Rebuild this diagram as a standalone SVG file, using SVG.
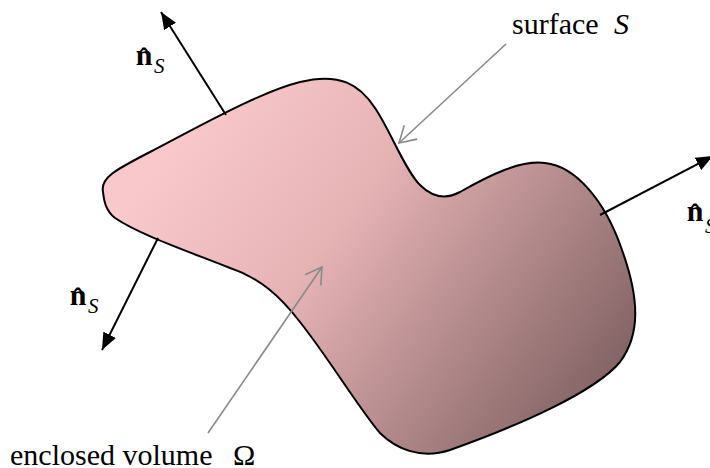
<svg xmlns="http://www.w3.org/2000/svg" width="710" height="468" viewBox="0 0 710 468">
  <style>
    .normal { stroke: #000; stroke-width: 2; fill: none; }
    .pointer { stroke: #8a8a8a; stroke-width: 1.6; fill: none; }
    .nb { font-family: "Liberation Serif", "Times New Roman", serif; font-weight: bold; font-size: 30px; fill: #000; }
    .hat { font-family: "Liberation Serif", "Times New Roman", serif; font-weight: bold; font-size: 28px; fill: #000; }
    .sub { font-family: "Liberation Serif", "Times New Roman", serif; font-style: italic; font-size: 21px; fill: #000; }
    .lbl { font-family: "Liberation Serif", "Times New Roman", serif; font-size: 30px; fill: #000; }
    .lbli { font-family: "Liberation Serif", "Times New Roman", serif; font-style: italic; font-size: 30px; fill: #000; }
  </style>
  <defs>
    <linearGradient id="fillGrad" gradientUnits="userSpaceOnUse" x1="190" y1="120" x2="610" y2="430">
      <stop offset="0" stop-color="#F8C8CB"/>
      <stop offset="0.35" stop-color="#E6B3B5"/>
      <stop offset="1" stop-color="#7A5C5D"/>
    </linearGradient>
    <marker id="solidHead" markerUnits="userSpaceOnUse" markerWidth="18" markerHeight="14" refX="17" refY="7" orient="auto">
      <path d="M0,0 L17,7 L0,14 Z" fill="#000"/>
    </marker>
    <marker id="openHead" markerUnits="userSpaceOnUse" markerWidth="20" markerHeight="22" refX="17" refY="11" orient="auto">
      <path d="M1,1.5 L17,11 L1,20.5" fill="none" stroke="#8a8a8a" stroke-width="1.6"/>
    </marker>
  </defs>

  <g id="surface">
    <path d="M103,192 C100,178 115,170 150,152 C200,126 260,92 300,82 C340,72 360,85 375,108 C390,130 405,170 420,185 C432,197 445,200 460,192 C490,175 520,160 545,163 C575,166 605,200 622,250 C640,300 640,335 620,362 C595,392 520,425 450,450 C420,460 395,448 380,433 C360,410 330,360 300,322 C280,296 260,278 230,268 C190,252 140,235 115,218 C105,210 104,200 103,192 Z" fill="url(#fillGrad)" stroke="#000" stroke-width="2"/>
  </g>

  <g id="connectors">
    <line class="normal" x1="226" y1="115" x2="161" y2="12" marker-end="url(#solidHead)"/>
    <line class="normal" x1="600" y1="215" x2="713" y2="156" marker-end="url(#solidHead)"/>
    <line class="normal" x1="158" y1="238" x2="102" y2="350" marker-end="url(#solidHead)"/>
    <line class="pointer" x1="506" y1="44" x2="399" y2="143" marker-end="url(#openHead)"/>
    <line class="pointer" x1="208" y1="433" x2="322" y2="267" marker-end="url(#openHead)"/>
  </g>

  <g id="label-normal-top">
    <text class="hat" x="144" y="67" text-anchor="middle">ˆ</text>
    <text class="nb" x="144" y="65" text-anchor="middle">n</text>
    <text class="sub" x="154" y="73">S</text>
  </g>
  <g id="label-normal-bottom">
    <text class="hat" x="78" y="307" text-anchor="middle">ˆ</text>
    <text class="nb" x="78" y="305" text-anchor="middle">n</text>
    <text class="sub" x="88" y="313">S</text>
  </g>
  <g id="label-normal-right">
    <text class="hat" x="695" y="223" text-anchor="middle">ˆ</text>
    <text class="nb" x="695" y="221" text-anchor="middle">n</text>
    <text class="sub" x="705" y="233">S</text>
  </g>
  <g id="label-surface">
    <text class="lbl" x="512" y="34">surface</text>
    <text class="lbli" x="614" y="34">S</text>
  </g>
  <g id="label-volume">
    <text class="lbl" x="10" y="465">enclosed volume</text>
    <text class="lbl" x="233" y="465">Ω</text>
  </g>
</svg>
